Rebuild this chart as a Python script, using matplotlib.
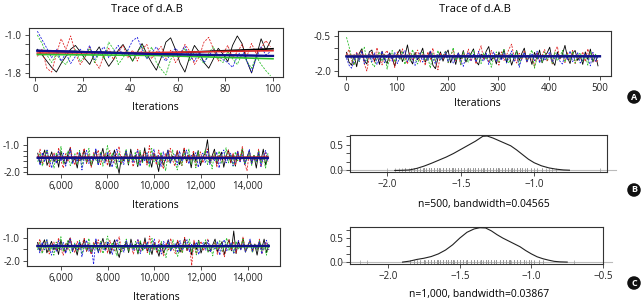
import matplotlib
matplotlib.use("Agg")
import matplotlib.pyplot as plt
from matplotlib import font_manager
import numpy as np

names = {f.name for f in font_manager.fontManager.ttflist}
font = "Liberation Sans Narrow" if "Liberation Sans Narrow" in names else "Open Sans"
plt.rcParams["font.family"] = [font, "DejaVu Sans"]

title = "Trace of d.A.B"
chain_colors = ["black", "#e02828", "#2cbf2c", "#2222e0"]
chain_styles = ["-", "--", "--", "--"]

# panel A left: 100 iterations (every 2nd one read)
tl_black = [-1.30, -1.42, -1.55, -1.68, -1.78, -1.60, -1.45, -1.30, -1.22, -1.35,
            -1.50, -1.62, -1.40, -1.25, -1.48, -1.66, -1.52, -1.32, -1.20, -1.38,
            -1.55, -1.36, -1.18, -1.40, -1.58, -1.74, -1.48, -1.15, -1.06, -1.30,
            -1.60, -1.78, -1.46, -1.22, -1.36, -1.58, -1.70, -1.50, -1.28, -1.40,
            -1.56, -1.22, -1.02, -1.18, -1.55, -1.80, -1.45, -1.08, -1.32, -1.12]
tl_red = [-1.45, -1.30, -1.70, -1.78, -1.40, -1.08, -1.30, -1.02, -1.38, -1.62,
          -1.48, -1.25, -1.55, -1.70, -1.42, -1.28, -1.52, -1.36, -1.22, -1.48,
          -1.32, -1.55, -1.30, -1.20, -1.50, -1.36, -1.24, -1.50, -1.32, -1.58,
          -1.44, -1.20, -1.34, -1.62, -1.46, -1.15, -1.05, -1.30, -1.55, -1.40,
          -1.22, -1.48, -1.36, -1.20, -1.45, -1.18, -1.40, -1.28, -1.12, -1.25]
tl_green = [-1.00, -1.18, -1.42, -1.58, -1.40, -1.55, -1.62, -1.44, -1.30, -1.56,
            -1.45, -1.28, -1.58, -1.38, -1.50, -1.15, -1.30, -1.62, -1.48, -1.32,
            -1.55, -1.38, -1.22, -1.50, -1.25, -1.58, -1.72, -1.84, -1.52, -1.35,
            -1.45, -1.28, -1.55, -1.34, -1.48, -1.60, -1.38, -1.25, -1.50, -1.58,
            -1.35, -1.50, -1.62, -1.40, -1.55, -1.70, -1.45, -1.62, -1.75, -1.86]
tl_blue = [-0.92, -1.10, -1.28, -1.48, -1.30, -1.55, -1.38, -1.60, -1.45, -1.30,
           -1.42, -1.22, -1.52, -1.36, -1.25, -1.48, -1.35, -1.22, -1.45, -1.32,
           -1.12, -1.05, -1.30, -1.50, -1.38, -1.25, -1.42, -1.55, -1.40, -1.28,
           -1.38, -1.24, -1.45, -1.55, -1.36, -1.58, -1.44, -1.30, -1.42, -1.52,
           -1.58, -1.68, -1.45, -1.30, -1.55, -1.78, -1.48, -1.25, -1.42, -1.35]
tl_smooth = [[-1.33, -1.39, -1.29], [-1.38, -1.37, -1.33],
             [-1.41, -1.43, -1.50], [-1.33, -1.40, -1.44]]

# panel A right: 500 iterations (every 5th one read)
tr_black = [-1.20, -1.62, -1.75, -1.30, -1.82, -1.25, -1.05, -1.55, -1.70, -1.18,
            -1.10, -1.58, -1.30, -1.72, -1.15, -1.50, -1.68, -1.22, -1.45, -1.80,
            -1.28, -1.08, -1.60, -1.35, -0.88, -1.48, -1.70, -1.20, -1.52, -1.30,
            -1.02, -1.62, -1.40, -1.15, -1.75, -1.90, -1.45, -1.18, -1.58, -1.28,
            -1.10, -1.65, -1.32, -1.72, -1.22, -1.50, -1.12, -1.62, -1.40, -1.25,
            -1.05, -1.58, -1.74, -1.28, -1.48, -1.15, -0.95, -1.55, -1.35, -1.70,
            -1.18, -1.48, -1.08, -1.62, -1.30, -1.75, -1.42, -1.12, -1.55, -1.25,
            -1.02, -1.60, -1.34, -1.72, -1.20, -1.50, -1.10, -1.65, -1.38, -1.22,
            -0.98, -1.56, -1.76, -1.18, -1.48, -1.28, -0.90, -1.42, -1.68, -1.24,
            -1.12, -1.55, -1.34, -1.72, -1.18, -1.50, -1.06, -1.62, -1.30, -1.78]
tr_red = [-1.30, -1.08, -1.55, -1.75, -1.18, -1.50, -1.10, -1.68, -2.00, -1.40,
          -1.20, -1.62, -1.00, -1.45, -1.74, -1.28, -1.12, -1.58, -1.35, -1.85,
          -1.18, -1.52, -1.05, -1.42, -1.70, -1.22, -1.55, -1.32, -1.10, -1.62,
          -1.30, -1.76, -1.18, -1.50, -1.02, -1.56, -1.95, -1.25, -1.48, -1.15,
          -1.65, -1.32, -1.12, -1.55, -1.28, -1.72, -1.18, -1.45, -1.06, -1.58,
          -1.30, -1.70, -1.20, -0.92, -1.52, -1.32, -1.64, -1.12, -1.48, -1.26,
          -1.75, -1.18, -1.55, -1.32, -1.05, -0.85, -1.42, -1.66, -1.24, -1.54,
          -1.12, -1.62, -1.30, -1.48, -1.80, -1.20, -1.56, -1.32, -1.08, -1.60,
          -1.28, -1.70, -1.16, -0.95, -1.50, -1.34, -1.64, -1.22, -1.52, -1.12,
          -1.68, -1.30, -1.48, -1.18, -1.60, -1.05, -1.44, -1.26, -1.62, -1.55]
tr_green = [-0.55, -0.95, -1.42, -1.75, -1.28, -1.60, -1.12, -0.98, -1.55, -1.30,
            -1.68, -1.82, -1.40, -1.18, -1.58, -1.28, -1.92, -1.42, -1.12, -1.62,
            -1.30, -1.52, -1.15, -1.72, -1.28, -1.58, -1.08, -1.48, -1.70, -1.30,
            -1.20, -1.56, -1.38, -1.88, -1.25, -1.62, -1.12, -1.52, -1.32, -1.15,
            -1.64, -1.38, -1.00, -1.55, -1.28, -1.74, -1.18, -1.48, -1.62, -1.30,
            -1.12, -1.56, -1.38, -1.68, -1.22, -1.52, -1.30, -1.84, -1.40, -1.18,
            -1.60, -1.32, -1.08, -1.55, -1.66, -1.25, -1.50, -1.15, -1.72, -1.38,
            -1.22, -1.60, -1.32, -1.10, -1.88, -1.45, -1.28, -1.62, -1.18, -1.54,
            -1.30, -1.68, -1.20, -1.56, -1.40, -1.12, -1.62, -1.28, -1.52, -1.16,
            -1.66, -1.36, -1.22, -1.58, -1.32, -1.75, -1.18, -1.55, -1.28, -1.48]
tr_blue = [-1.45, -1.75, -1.88, -1.55, -1.25, -1.58, -1.15, -1.68, -1.40, -1.26,
           -1.60, -1.22, -1.72, -1.48, -1.15, -1.65, -1.35, -1.24, -1.58, -1.20,
           -1.68, -1.40, -1.28, -1.12, -1.60, -1.30, -1.52, -1.76, -1.38, -1.22,
           -1.62, -1.30, -1.55, -1.15, -1.46, -1.70, -1.28, -1.54, -1.40, -1.18,
           -1.60, -1.30, -1.66, -1.44, -1.22, -1.58, -1.80, -1.36, -1.20, -1.55,
           -1.28, -1.62, -1.15, -1.48, -1.58, -1.25, -1.72, -1.40, -1.18, -1.60,
           -1.30, -1.54, -1.22, -1.66, -1.40, -1.14, -1.58, -1.32, -1.84, -1.45,
           -1.20, -1.62, -1.38, -1.25, -1.56, -1.15, -1.66, -1.34, -1.55, -1.40,
           -1.18, -1.62, -1.44, -1.26, -1.58, -1.70, -1.30, -1.52, -1.14, -1.60,
           -1.40, -1.22, -1.66, -1.50, -1.28, -1.45, -1.78, -1.20, -1.58, -1.38]
tr_smooth = [[-1.36, -1.37, -1.36], [-1.34, -1.35, -1.35],
             [-1.37, -1.38, -1.37], [-1.38, -1.37, -1.37]]

# panel B left: iterations 5,000-15,000 (every 100th read)
ml_black = [-1.30, -1.68, -1.45, -1.18, -1.75, -1.52, -1.25, -1.62, -1.38, -1.82,
            -1.22, -1.58, -1.70, -1.32, -1.10, -1.64, -1.48, -1.85, -1.28, -1.55,
            -1.15, -1.66, -1.40, -1.78, -1.52, -1.20, -1.72, -1.45, -1.12, -1.60,
            -1.35, -1.80, -1.50, -1.18, -1.66, -2.05, -1.42, -1.58, -1.22, -1.74,
            -1.15, -1.56, -1.38, -1.80, -1.25, -1.62, -1.10, -1.68, -1.45, -1.82,
            -1.30, -1.58, -1.98, -1.35, -1.75, -1.50, -1.18, -1.66, -1.40, -1.55,
            -1.22, -1.72, -1.48, -1.12, -1.64, -1.36, -1.84, -1.28, -1.60, -1.20,
            -1.76, -1.44, -1.30, -0.80, -1.62, -1.40, -1.15, -1.70, -1.50, -1.26,
            -1.82, -1.42, -1.18, -1.66, -1.35, -1.78, -1.25, -1.60, -1.12, -1.72,
            -1.45, -1.22, -1.68, -1.38, -1.85, -1.28, -1.58, -1.15, -1.74, -1.40]
ml_red = [-1.52, -1.15, -1.70, -1.38, -1.22, -1.80, -1.45, -1.28, -1.66, -1.10,
          -1.58, -1.85, -1.32, -1.62, -1.08, -1.50, -1.74, -1.25, -1.60, -1.40,
          -1.12, -1.68, -1.35, -1.82, -1.28, -1.55, -1.18, -1.72, -1.42, -1.30,
          -1.76, -1.20, -1.58, -1.66, -1.32, -1.05, -1.70, -1.45, -1.22, -1.64,
          -1.35, -1.80, -1.52, -1.15, -1.68, -1.40, -1.25, -1.74, -1.02, -1.58,
          -1.30, -1.72, -1.18, -1.50, -1.88, -1.32, -1.62, -1.12, -1.55, -1.78,
          -1.20, -1.48, -1.76, -1.08, -1.64, -1.36, -1.58, -1.20, -1.80, -1.45,
          -1.25, -1.66, -1.38, -1.14, -1.70, -1.52, -1.28, -1.82, -1.35, -1.60,
          -1.58, -1.40, -1.18, -1.65, -1.30, -1.76, -1.22, -1.58, -1.05, -1.68,
          -1.95, -1.24, -1.72, -1.36, -1.60, -1.15, -1.80, -1.45, -1.28, -1.62]
ml_green = [-1.62, -1.30, -1.78, -1.45, -1.18, -1.66, -1.50, -1.85, -1.28, -1.58,
            -1.05, -1.70, -1.42, -1.22, -1.76, -1.55, -1.32, -1.68, -1.20, -1.80,
            -1.40, -1.62, -1.12, -1.72, -1.35, -1.55, -1.66, -1.25, -1.78, -1.45,
            -1.02, -1.62, -1.30, -1.58, -1.88, -1.28, -1.70, -1.45, -1.15, -1.68,
            -1.38, -1.60, -1.25, -1.76, -1.20, -1.65, -1.50, -1.30, -1.82, -1.12,
            -1.62, -1.40, -1.72, -1.26, -1.58, -1.95, -1.35, -1.66, -1.18, -1.60,
            -1.92, -1.42, -1.75, -1.28, -1.55, -1.15, -1.70, -1.40, -1.84, -1.25,
            -1.62, -1.45, -1.18, -1.72, -1.38, -1.88, -1.30, -1.60, -1.22, -1.68,
            -1.48, -1.10, -1.66, -1.35, -1.78, -1.25, -1.58, -1.42, -1.15, -1.70,
            -1.50, -1.28, -1.75, -1.38, -1.62, -1.20, -1.68, -1.45, -1.85, -1.30]
ml_blue = [-1.40, -1.75, -1.28, -1.62, -1.18, -1.55, -1.85, -1.35, -1.68, -1.22,
           -1.60, -1.30, -1.78, -1.48, -1.15, -1.70, -1.38, -1.62, -1.25, -1.92,
           -1.50, -1.20, -1.68, -1.42, -1.58, -1.12, -1.75, -1.32, -1.55, -1.66,
           -1.25, -1.50, -1.82, -1.38, -1.15, -1.62, -1.45, -1.72, -1.22, -1.58,
           -1.35, -1.66, -1.48, -1.18, -1.78, -1.40, -1.60, -1.28, -1.70, -1.45,
           -1.15, -1.62, -1.38, -1.80, -1.25, -1.58, -1.20, -1.66, -1.50, -1.35,
           -1.74, -1.22, -1.60, -1.45, -1.18, -1.70, -1.38, -1.56, -1.28, -1.82,
           -1.48, -1.30, -1.64, -1.20, -1.72, -1.42, -1.58, -1.25, -1.85, -1.40,
           -1.18, -1.66, -1.45, -1.30, -1.76, -1.55, -1.22, -1.62, -1.36, -1.70,
           -1.48, -1.15, -1.68, -1.40, -1.58, -1.26, -1.80, -1.44, -1.20, -1.62]
ml_smooth = [[-1.46, -1.47, -1.46], [-1.45, -1.46, -1.45],
             [-1.48, -1.49, -1.48], [-1.47, -1.47, -1.48]]

# panel C left: iterations 5,000-15,000 (every 100th read)
bl_black = [-1.20, -1.55, -1.32, -1.08, -1.65, -1.40, -1.15, -1.52, -1.28, -1.72,
            -1.10, -1.48, -1.60, -1.22, -1.00, -1.55, -1.36, -1.75, -1.18, -1.45,
            -1.05, -1.58, -1.30, -1.68, -1.42, -1.12, -1.62, -1.35, -1.02, -1.50,
            -1.25, -1.70, -1.40, -1.08, -1.56, -1.85, -1.32, -1.48, -1.15, -1.64,
            -1.05, -1.46, -1.28, -1.70, -1.16, -1.52, -1.00, -1.58, -1.35, -1.72,
            -1.20, -1.48, -1.80, -1.25, -1.65, -1.40, -1.08, -1.56, -1.30, -1.45,
            -1.12, -1.62, -1.38, -1.02, -1.55, -1.26, -1.74, -1.18, -1.50, -1.10,
            -1.66, -1.34, -1.20, -1.58, -1.52, -1.30, -1.05, -1.60, -1.40, -1.16,
            -1.72, -1.32, -1.08, -1.56, -0.70, -1.68, -1.15, -1.50, -1.02, -1.62,
            -1.35, -1.12, -1.58, -1.28, -1.75, -1.18, -1.48, -1.05, -1.64, -1.30]
bl_red = [-1.42, -1.05, -1.60, -1.28, -1.12, -1.70, -1.35, -1.18, -1.56, -1.00,
          -1.48, -1.75, -1.22, -1.52, -0.98, -1.40, -1.64, -1.15, -1.50, -1.30,
          -1.02, -1.58, -1.25, -1.72, -1.18, -1.45, -1.08, -1.62, -1.32, -1.20,
          -1.66, -1.10, -1.48, -1.56, -1.22, -0.95, -1.60, -1.35, -1.12, -1.54,
          -1.25, -1.70, -1.42, -1.05, -1.58, -1.30, -1.15, -1.64, -0.92, -1.48,
          -1.20, -1.62, -1.08, -1.40, -1.78, -1.22, -1.52, -1.02, -1.45, -1.68,
          -1.10, -1.38, -1.66, -0.98, -1.54, -1.26, -2.20, -1.10, -1.70, -1.35,
          -1.15, -1.56, -1.28, -1.04, -1.60, -1.42, -1.18, -1.72, -1.25, -1.50,
          -1.82, -1.30, -1.08, -1.55, -1.20, -1.66, -1.12, -1.48, -0.95, -1.58,
          -1.32, -1.14, -1.62, -1.26, -1.50, -1.05, -1.70, -1.35, -1.18, -1.52]
bl_green = [-1.52, -1.20, -1.68, -1.35, -1.08, -1.56, -1.40, -1.75, -1.18, -1.48,
            -0.95, -1.60, -1.32, -1.12, -1.66, -1.45, -1.22, -1.58, -1.10, -1.70,
            -1.30, -1.52, -1.02, -1.62, -1.25, -1.45, -1.56, -1.15, -1.68, -1.35,
            -0.92, -1.52, -1.20, -1.48, -1.78, -1.18, -1.60, -1.35, -1.05, -1.58,
            -1.28, -1.50, -1.15, -1.66, -1.10, -1.55, -1.40, -1.20, -1.72, -1.02,
            -1.52, -1.30, -1.62, -1.16, -1.48, -1.85, -1.25, -1.56, -1.08, -1.50,
            -1.80, -1.32, -1.65, -1.18, -1.45, -1.05, -1.60, -1.30, -1.74, -1.15,
            -1.52, -1.35, -1.08, -1.62, -1.28, -1.78, -1.20, -1.50, -1.12, -1.58,
            -1.38, -1.00, -1.56, -1.25, -1.68, -1.15, -1.48, -1.32, -1.05, -1.60,
            -1.40, -1.18, -1.65, -1.28, -1.52, -1.10, -1.58, -1.35, -1.75, -1.20]
bl_blue = [-1.30, -1.65, -1.18, -1.52, -1.08, -1.45, -1.75, -1.25, -1.58, -1.12,
           -1.50, -1.20, -1.68, -1.38, -1.05, -1.60, -1.28, -1.52, -1.15, -1.82,
           -1.40, -1.10, -1.58, -1.32, -2.15, -1.02, -1.65, -1.22, -1.45, -1.56,
           -1.15, -1.40, -1.72, -1.28, -1.05, -1.52, -1.35, -1.62, -1.12, -1.48,
           -1.25, -1.56, -1.38, -1.08, -1.68, -1.30, -1.50, -1.18, -1.60, -1.35,
           -1.05, -1.52, -1.28, -1.70, -1.15, -1.48, -1.10, -1.56, -1.40, -1.25,
           -1.64, -1.12, -1.50, -1.35, -1.08, -1.60, -1.28, -1.46, -1.18, -1.72,
           -1.38, -1.20, -1.54, -1.10, -1.62, -1.32, -1.48, -1.15, -1.75, -1.30,
           -1.08, -1.56, -1.35, -1.20, -1.66, -1.45, -1.12, -1.52, -1.26, -1.60,
           -1.38, -1.05, -1.58, -1.30, -1.48, -1.16, -1.70, -1.34, -1.10, -1.52]
bl_smooth = [[-1.34, -1.35, -1.34], [-1.36, -1.37, -1.36],
             [-1.38, -1.39, -1.38], [-1.35, -1.36, -1.35]]

# density curves
dens_b_x = [-1.95, -1.90, -1.85, -1.80, -1.75, -1.70, -1.65, -1.60, -1.55, -1.50,
            -1.45, -1.40, -1.35, -1.32, -1.28, -1.24, -1.20, -1.16, -1.12, -1.08,
            -1.04, -1.00, -0.95, -0.90, -0.85, -0.80, -0.76]
dens_b_y = [0.0, 0.003, 0.01, 0.04, 0.085, 0.14, 0.20, 0.26, 0.33, 0.41,
            0.49, 0.57, 0.665, 0.67, 0.63, 0.58, 0.53, 0.48, 0.40, 0.31,
            0.22, 0.15, 0.09, 0.05, 0.025, 0.01, 0.005]
dens_c_x = [-1.90, -1.85, -1.80, -1.75, -1.70, -1.65, -1.60, -1.55, -1.50, -1.45,
            -1.40, -1.36, -1.32, -1.28, -1.24, -1.20, -1.16, -1.12, -1.08, -1.04,
            -1.00, -0.96, -0.92, -0.88, -0.84, -0.80, -0.75]
dens_c_y = [0.0, 0.02, 0.055, 0.08, 0.115, 0.17, 0.25, 0.36, 0.50, 0.62,
            0.69, 0.715, 0.71, 0.65, 0.57, 0.50, 0.44, 0.38, 0.32, 0.24,
            0.17, 0.11, 0.07, 0.04, 0.015, 0.005, 0.0]
caption_b = "n=500, bandwidth=0.04565"
caption_c = "n=1,000, bandwidth=0.03867"

W, H = 644, 305
fig = plt.figure(figsize=(W / 100, H / 100), dpi=100)


def add_box(left, right, top, bottom):
    ax = fig.add_axes([left / W, 1 - bottom / H, (right - left) / W, (bottom - top) / H])
    for s in ax.spines.values():
        s.set_color("#333333")
        s.set_linewidth(0.8)
    ax.tick_params(direction="out", length=3, width=0.6, colors="#333333",
                   labelsize=7, labelcolor="#222222", pad=2)
    return ax


def draw_trace(ax, x, chains, smooth_x, smooth):
    for vals, c, ls in zip(chains, chain_colors, chain_styles):
        if ls == "--":
            ax.plot(x, vals, color=c, lw=0.6, ls=(0, (2.5, 1.5)))
        else:
            ax.plot(x, vals, color=c, lw=0.6)
    for vals, c in zip(smooth, chain_colors):
        ax.plot(smooth_x, vals, color=c, lw=1.2)
    ax.plot(smooth_x, smooth[3], color="#10108a", lw=1.6)


def ftext(x, y, s, **kw):
    fig.text(x / W, 1 - y / H, s, ha="center", va="center", **kw)


# A left
ax1 = add_box(29, 283, 28, 77)
draw_trace(ax1, np.arange(1, 101, 2), [tl_black, tl_red, tl_green, tl_blue], [1, 50, 100], tl_smooth)
ax1.set_xlim(-2.5, 104.2)
ax1.set_ylim(-1.884, -0.853)
ax1.set_xticks([0, 20, 40, 60, 80, 100])
ax1.set_yticks([-1.8, -1.6, -1.4, -1.2, -1.0])
ax1.set_yticklabels(["-1.8", "", "", "", "-1.0"])

# A right
ax2 = add_box(338, 611, 31, 76)
draw_trace(ax2, np.arange(1, 501, 5), [tr_black, tr_red, tr_green, tr_blue], [1, 250, 500], tr_smooth)
ax2.set_xlim(-15.7, 521.6)
ax2.set_ylim(-2.215, -0.285)
ax2.set_xticks([0, 100, 200, 300, 400, 500])
ax2.set_yticks([-2.0, -1.5, -1.0, -0.5])
ax2.set_yticklabels(["-2.0", "", "", "-0.5"])

long_x = np.arange(5000, 15000, 100)

# B left
ax3 = add_box(27, 279, 137, 174)
draw_trace(ax3, long_x, [ml_black, ml_red, ml_green, ml_blue], [5000, 10000, 14900], ml_smooth)
ax3.set_xlim(4538, 15376)
ax3.set_ylim(-2.07, -0.70)
ax3.set_yticks([-2.0, -1.8, -1.6, -1.4, -1.2, -1.0])
ax3.set_yticklabels(["-2.0", "", "", "", "", "-1.0"])

# C left
ax5 = add_box(27, 280, 228, 266)
draw_trace(ax5, long_x, [bl_black, bl_red, bl_green, bl_blue], [5000, 10000, 14900], bl_smooth)
ax5.set_xlim(4550, 15380)
ax5.set_ylim(-2.22, -0.57)
ax5.set_yticks([-2.0, -1.5, -1.0])
ax5.set_yticklabels(["-2.0", "", "-1.0"])

for ax in (ax3, ax5):
    ax.set_xticks([6000, 8000, 10000, 12000, 14000])
    ax.set_xticklabels(["6,000", "8,000", "10,000", "12,000", "14,000"])


def draw_density(ax, dx, dy, rug):
    ax.plot([-2.32, -0.44], [0, 0], color="#bbbbbb", lw=0.8, clip_on=False, zorder=1)
    ax.plot(rug, np.zeros(len(rug)), ls="none", marker="|", ms=3, mew=0.5, color="#999999", zorder=2)
    ax.plot(dx, dy, color="#222222", lw=0.8, zorder=3)
    ax.set_yticks([0, 1 / 6, 2 / 6, 0.5, 4 / 6])
    ax.set_yticklabels(["0.0", "", "", "0.5", ""])


# B right
ax4 = add_box(350, 607, 135, 172)
draw_density(ax4, dens_b_x, dens_b_y, tr_black + tr_red + tr_green + tr_blue)
ax4.set_xlim(-2.255, -0.504)
ax4.set_ylim(-0.03, 0.69)
ax4.set_xticks([-2.0, -1.5, -1.0])

# C right
ax6 = add_box(350, 603, 227, 264)
draw_density(ax6, dens_c_x, dens_c_y, bl_black + bl_red + bl_green + bl_blue)
ax6.set_xlim(-2.267, -0.5)
ax6.set_ylim(-0.04, 0.73)
ax6.set_xticks([-2.0, -1.5, -1.0, -0.5])

ftext(147, 9, title, fontsize=8)
ftext(475, 9, title, fontsize=8)
ftext(155, 108, "Iterations", fontsize=7.5)
ftext(477, 103, "Iterations", fontsize=7.5)
ftext(155, 206, "Iterations", fontsize=7.5)
ftext(156, 298, "Iterations", fontsize=7.5)
ftext(484, 204, caption_b, fontsize=7.5)
ftext(479, 294, caption_c, fontsize=7.5)

for letter, yy in [("A", 97), ("B", 190), ("C", 283)]:
    ftext(634, yy, letter, fontsize=6.5, color="white", fontweight="bold",
          bbox=dict(boxstyle="circle,pad=0.25", fc="#111111", ec="none"))

fig.savefig("out.png", dpi=100)
